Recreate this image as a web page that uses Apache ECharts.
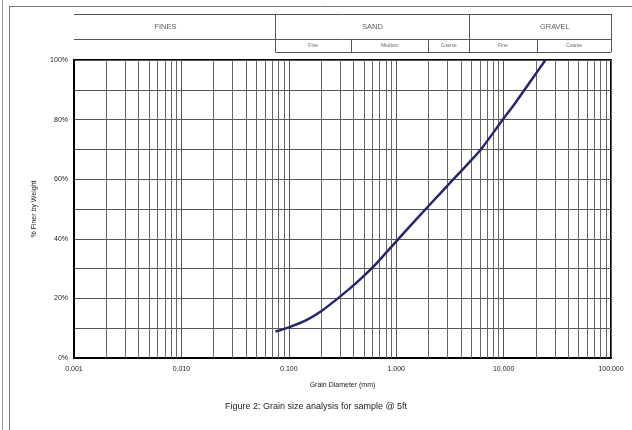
<!DOCTYPE html>
<html><head><meta charset="utf-8">
<script src="https://cdn.jsdelivr.net/npm/echarts@6/dist/echarts.min.js"></script>
<style>html,body{margin:0;padding:0;background:#fff}#c{width:632px;height:430px}</style>
</head><body><div id="c"></div>
<script>
// Grain size distribution (grain diameter mm, % finer)
const grainSize = [0.075, 0.1, 0.15, 0.2, 0.3, 0.425, 0.6, 0.85, 1.18, 2.0, 3.35, 4.75, 6.3, 9.5, 12.5, 19.0, 24.5];
const percentFiner = [8.9, 10.3, 13, 15.7, 20.6, 25.2, 30.3, 36.3, 42, 51, 59.7, 65.5, 70.5, 79.3, 85, 94.3, 100];
const xTickLabels = ['0.001', '0.010', '0.100', '1.000', '10.000', '100.000'];
const yTickLabels = ['0%', '20%', '40%', '60%', '80%', '100%'];
// Minor vertical gridlines (2..9 x each decade)
const decades = [0.001, 0.01, 0.1, 1, 10];
const multipliers = [2, 3, 4, 5, 6, 7, 8, 9];
// Header classification boundaries (mm)
const mainBounds = [0.075, 4.75];
const subBounds = [0.38, 2.0, 20.5];
const mainNames = ['FINES', 'SAND', 'GRAVEL'];
const mainPos = [0.0071, 0.6, 30];
const subNames = ['Fine', 'Medium', 'Coarse', 'Fine', 'Coarse'];
const subRanges = [[0.075, 0.38], [0.38, 2.0], [2.0, 4.75], [4.75, 20.5], [20.5, 100]];

const minorX = [];
decades.forEach(d => multipliers.forEach(k => minorX.push(+(d * k).toPrecision(3))));

const chart = echarts.init(document.getElementById('c'), null, {renderer: 'canvas'});
const FF = '"Liberation Sans", Arial, sans-serif';
const seg = (x1, y1, x2, y2) => [{coord: [x1, y1]}, {coord: [x2, y2]}];
const headerLines = [
  seg(0.001, 0, 100, 0),
  seg(0.001, 25, 100, 25),
  seg(0.075, 38, 100, 38),
  seg(100, 0, 100, 38),
  ...mainBounds.map(b => seg(b, 0, b, 38)),
  ...subBounds.map(b => seg(b, 25, b, 38))
];
const gm = (a, b) => Math.sqrt(a * b);

chart.setOption({
  animation: false,
  backgroundColor: '#fff',
  graphic: [
    {type: 'line', shape: {x1: 2.5, y1: 0, x2: 2.5, y2: 430}, style: {stroke: '#999', lineWidth: 1}},
    {type: 'line', shape: {x1: 9.5, y1: 6, x2: 9.5, y2: 430}, style: {stroke: '#777', lineWidth: 1}},
    {type: 'line', shape: {x1: 9, y1: 6.5, x2: 632, y2: 6.5}, style: {stroke: '#777', lineWidth: 1}},
    {type: 'text', left: 'center', top: 402, style: {text: 'Figure 2: Grain size analysis for sample @ 5ft', font: '9px ' + FF, fill: '#222'}}
  ],
  grid: [
    {left: 74, right: 21, top: 60, bottom: 72, show: true, borderColor: '#000', borderWidth: 2, backgroundColor: 'transparent'},
    {left: 74, right: 21, top: 14, height: 38, show: false}
  ],
  xAxis: [
    {type: 'log', logBase: 10, min: 0.001, max: 100, gridIndex: 0,
     name: 'Grain Diameter (mm)', nameLocation: 'middle', nameGap: 24,
     nameTextStyle: {fontFamily: FF, fontSize: 7, color: '#222'},
     axisLine: {show: true, lineStyle: {color: '#000', width: 2}},
     axisTick: {show: false},
     axisLabel: {fontFamily: FF, fontSize: 7, color: '#222', margin: 8,
       formatter: v => { const i = Math.round(Math.log10(v)) + 3; return xTickLabels[i] !== undefined ? xTickLabels[i] : ''; }},
     splitLine: {show: true, lineStyle: {color: '#555', width: 1}}},
    {type: 'log', logBase: 10, min: 0.001, max: 100, gridIndex: 1, show: false}
  ],
  yAxis: [
    {type: 'value', min: 0, max: 100, interval: 10, gridIndex: 0,
     name: '% Finer by Weight', nameLocation: 'middle', nameGap: 36, nameRotate: 90,
     nameTextStyle: {fontFamily: FF, fontSize: 7, color: '#222'},
     axisLine: {show: true, lineStyle: {color: '#000', width: 2}},
     axisTick: {show: false},
     axisLabel: {fontFamily: FF, fontSize: 7, color: '#222', margin: 6,
       formatter: v => (v % 20 === 0 ? yTickLabels[v / 20] : '')},
     splitLine: {show: true, lineStyle: {color: '#555', width: 1}}},
    {type: 'value', min: 0, max: 38, inverse: true, gridIndex: 1, show: false}
  ],
  series: [
    {type: 'scatter', xAxisIndex: 0, yAxisIndex: 0, data: [], silent: true,
     markLine: {silent: true, symbol: 'none', animation: false, label: {show: false},
       lineStyle: {color: '#666', width: 1, type: 'solid'},
       data: minorX.map(x => seg(x, 0, x, 100))}},
    {type: 'line', xAxisIndex: 0, yAxisIndex: 0, smooth: 0.3, showSymbol: false,
     lineStyle: {color: '#26266e', width: 2.5}, z: 5,
     data: grainSize.map((d, i) => [d, percentFiner[i]])},
    {type: 'scatter', xAxisIndex: 1, yAxisIndex: 1, symbolSize: 0, silent: true,
     data: mainNames.map((n, i) => ({value: [mainPos[i], 12.5], name: n})),
     label: {show: true, position: 'inside', formatter: p => p.name, fontFamily: FF, fontSize: 7.5, color: '#333'},
     markLine: {silent: true, symbol: 'none', label: {show: false},
       lineStyle: {color: '#555', width: 1, type: 'solid'}, data: headerLines}},
    {type: 'scatter', xAxisIndex: 1, yAxisIndex: 1, symbolSize: 0, silent: true,
     data: subNames.map((n, i) => ({value: [gm(subRanges[i][0], subRanges[i][1]), 31.5], name: n})),
     label: {show: true, position: 'inside', formatter: p => p.name, fontFamily: FF, fontSize: 5, color: '#444'}}
  ]
});
</script></body></html>
